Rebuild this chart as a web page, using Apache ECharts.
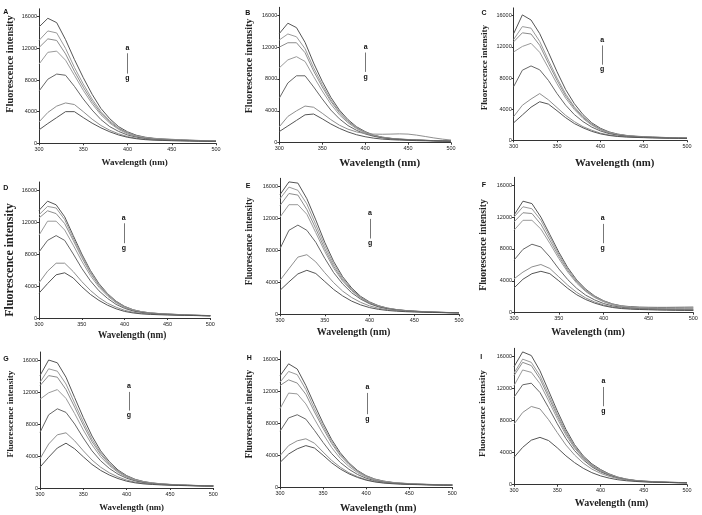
<!DOCTYPE html>
<html><head><meta charset="utf-8">
<script src="https://cdn.jsdelivr.net/npm/echarts@6/dist/echarts.min.js"></script>
<style>html,body{margin:0;padding:0;background:#fff}#c{width:702px;height:515px}</style>
</head><body><div id="c"></div>
<script>
// ---------- data ----------
const wavelengths = [300,310,320,330,340,350,360,370,380,390,400,410,420,430,440,450,460,470,480,490,500];
const curveNames = ['a','b','c','d','e','f','g'];
const panelNames = ['A','B','C','D','E','F','G','H','I'];
const xTicks = [300,350,400,450,500];
const yTicks = [0,4000,8000,12000,16000];
const xTitle = 'Wavelength (nm)';
const yTitle = 'Fluorescence intensity';

const panelA = [
  [14700,15800,15250,13100,10600,8300,6200,4400,3100,2100,1450,1020,770,630,550,500,450,400,360,330,300],
  [13000,14200,13950,12000,9600,7500,5600,4000,2850,1950,1350,950,720,600,520,470,420,380,340,310,290],
  [12100,13200,13000,11300,9100,7100,5300,3800,2700,1850,1300,920,700,580,500,450,400,360,330,300,280],
  [10000,11500,11650,10500,8600,6700,5000,3600,2550,1750,1200,880,680,560,490,440,390,350,320,300,280],
  [6600,8100,8750,8600,7200,5600,4200,3000,2100,1500,1050,780,600,500,440,400,360,330,300,280,260],
  [2700,3900,4700,5100,4900,4000,3050,2250,1650,1200,850,640,500,430,380,350,320,300,280,260,250],
  [1700,2500,3250,4000,4000,3250,2550,1950,1450,1050,760,580,460,400,360,330,310,290,270,250,240]
];
const panelB = [
  [13700,15000,14450,12600,10000,7700,5700,4100,2900,2000,1400,950,700,550,450,400,350,300,260,230,200],
  [12900,13650,13300,11800,9400,7300,5400,3900,2750,1900,1320,920,680,540,450,390,340,300,260,230,200],
  [12000,12550,12550,11300,9000,7000,5200,3750,2650,1850,1280,900,660,530,440,380,330,290,250,220,200],
  [9400,10400,10800,10200,8300,6500,4850,3500,2500,1750,1220,860,640,510,430,370,320,280,250,220,200],
  [5600,7500,8400,8400,7000,5500,4100,3000,2150,1550,1100,800,600,490,420,360,320,280,250,220,200],
  [2000,3300,4000,4600,4450,3700,2900,2200,1700,1350,1150,1080,1060,1080,1110,1080,950,780,600,450,330],
  [1400,2100,2800,3500,3600,3000,2350,1800,1350,1000,750,570,450,380,330,290,260,240,220,200,190]
];
const panelC = [
  [13700,16100,15450,13700,11300,8800,6500,4700,3300,2250,1550,1080,800,630,530,470,420,380,340,310,290],
  [12950,14600,14400,12700,10300,8000,5950,4300,3050,2100,1450,1020,760,600,510,450,400,360,330,300,280],
  [12650,13800,13650,12200,9900,7700,5700,4150,2950,2050,1400,990,740,590,500,440,390,350,320,300,280],
  [11350,12050,12450,11300,9300,7250,5400,3950,2800,1950,1350,950,720,570,490,430,380,340,310,290,270],
  [6900,9000,9550,9050,7700,6000,4500,3300,2400,1700,1200,860,660,530,460,410,360,330,300,280,260],
  [3050,4500,5300,6000,5200,4200,3200,2400,1750,1300,920,690,540,450,400,360,330,300,280,260,250],
  [2250,3250,4250,4950,4650,3800,2900,2150,1600,1150,830,620,490,420,370,340,310,290,270,250,240]
];
const panelD = [
  [13450,14600,14150,12650,10300,8000,5950,4300,3050,2100,1450,1030,780,640,560,500,450,400,360,330,300],
  [12900,13950,13750,12300,10000,7800,5800,4200,3000,2050,1420,1010,770,630,550,490,440,390,350,320,300],
  [12500,13400,13050,11800,9700,7550,5600,4050,2900,2000,1380,990,760,620,540,480,430,380,340,310,290],
  [10350,12100,12100,11000,9100,7100,5300,3850,2750,1900,1320,950,730,600,530,470,420,370,340,310,290],
  [8250,9700,10300,9700,8000,6200,4650,3400,2450,1700,1200,870,680,570,500,450,400,360,330,300,280],
  [4400,5850,6850,6850,5800,4550,3450,2550,1850,1350,960,720,580,500,450,410,380,350,320,300,280],
  [3100,4300,5400,5650,5000,3900,2950,2200,1600,1150,820,630,510,450,410,380,350,330,310,290,270]
];
const panelE = [
  [14950,16550,16400,14450,11800,9000,6600,4700,3300,2250,1550,1080,780,600,480,400,340,290,250,220,200],
  [14450,15900,15500,13800,11200,8600,6300,4500,3150,2150,1480,1040,760,580,470,390,330,280,240,210,200],
  [13600,15100,14900,13100,10700,8200,6000,4300,3050,2100,1440,1010,740,570,460,380,320,280,240,210,200],
  [12150,13700,13700,12500,10200,7850,5750,4150,2950,2030,1400,980,720,560,450,370,320,270,240,210,200],
  [8200,10500,11150,10500,9000,7000,5200,3800,2700,1900,1320,930,690,540,440,370,310,270,230,210,190],
  [4250,5700,7150,7450,6550,5200,3950,2900,2100,1500,1050,760,580,470,390,330,290,250,220,200,190],
  [3000,4050,5050,5500,5100,4100,3100,2300,1650,1180,840,620,480,390,330,290,260,230,210,190,180]
];
const panelF = [
  [12250,14000,13700,12000,9800,7600,5650,4100,2950,2100,1500,1100,860,760,700,680,670,670,680,690,700],
  [12000,13300,13050,11600,9500,7350,5500,4000,2850,2050,1460,1070,830,710,640,610,590,590,590,600,600],
  [11400,12550,12450,11100,9100,7100,5300,3850,2750,1980,1420,1040,810,680,610,570,540,520,510,500,500],
  [10350,11600,11600,10500,8700,6800,5100,3700,2650,1900,1370,1000,780,660,590,540,500,470,450,430,410],
  [6600,7950,8600,8250,7000,5500,4150,3050,2200,1600,1150,850,670,570,510,470,440,410,390,370,350],
  [4250,5100,5750,6050,5550,4500,3450,2550,1850,1350,970,730,580,500,450,420,390,370,350,330,320],
  [3100,4200,4900,5200,4900,4000,3050,2250,1650,1200,870,650,520,450,400,370,340,320,300,290,280]
];
const panelG = [
  [14050,16000,15650,13850,11300,8800,6500,4650,3300,2250,1550,1080,800,630,520,450,400,360,320,290,270],
  [13200,14900,14600,13000,10600,8250,6100,4400,3100,2150,1480,1040,770,610,510,440,390,350,310,280,260],
  [12800,14050,13850,12300,10100,7850,5800,4200,2980,2070,1430,1010,750,600,500,430,380,340,300,280,260],
  [11100,11900,12300,11200,9300,7250,5400,3900,2800,1950,1350,960,720,580,490,420,370,330,300,270,250],
  [6950,9150,9900,9450,8000,6250,4650,3400,2450,1730,1220,880,660,540,460,400,360,320,290,270,250],
  [3650,5500,6650,6900,5900,4650,3500,2600,1900,1380,990,730,570,480,420,370,340,310,280,260,250],
  [2600,3850,5000,5600,4900,3900,2950,2200,1620,1180,850,640,510,440,390,350,320,290,270,250,240]
];
const panelH = [
  [13900,15400,14750,12700,10300,8000,5950,4300,3050,2100,1450,1030,780,620,520,460,410,370,340,320,300],
  [13100,14450,14050,12200,9800,7650,5700,4100,2950,2030,1410,1000,760,610,510,450,400,360,330,310,290],
  [12700,13400,13000,11600,9400,7350,5450,3950,2850,1970,1370,980,740,600,500,440,390,350,320,300,290],
  [9800,11750,11650,10400,8500,6650,4950,3600,2600,1820,1280,920,700,570,480,420,380,340,310,290,280],
  [7000,8650,9050,8500,7100,5600,4200,3100,2250,1600,1130,820,630,520,450,400,360,330,300,280,270],
  [3950,5200,5800,6050,5500,4400,3350,2500,1820,1330,960,720,570,480,420,380,350,320,300,280,270],
  [3100,4150,4800,5200,4900,4000,3050,2280,1680,1230,890,670,530,450,400,360,330,310,290,270,260]
];
const panelI = [
  [14700,16550,16100,14200,11700,9200,6900,5000,3600,2600,1900,1350,950,700,540,450,390,340,300,280,260],
  [13900,15650,15250,13600,11250,8850,6650,4850,3500,2500,1820,1300,920,680,530,440,380,330,300,270,250],
  [13600,15250,14850,13200,10900,8600,6450,4700,3400,2430,1770,1270,900,670,520,430,370,330,290,270,250],
  [12350,14300,14000,12600,10450,8250,6200,4550,3300,2350,1700,1230,880,650,510,420,360,320,290,260,240],
  [10900,12450,12650,11500,9600,7600,5750,4250,3100,2220,1600,1170,840,630,500,410,350,310,280,250,240],
  [7550,9000,9750,9450,8100,6500,4950,3700,2700,1950,1420,1040,770,590,470,390,340,300,270,250,230],
  [3400,4650,5550,5900,5500,4600,3600,2750,2050,1500,1100,820,620,490,410,350,310,290,270,250,230]
];
const panels = [panelA,panelB,panelC,panelD,panelE,panelF,panelG,panelH,panelI];

// annotation "a -> g" in data units: [x, y of 'a', y of 'g']
const arrowAnno = [
  [400,12080,8210],[400.6,12020,8290],[402,12880,9110],
  [399,12540,8750],[400.6,12625,8875],[399,11850,8125],
  [402.7,12710,9080],[401.4,12470,8520],[403.3,12880,9180]
];

// ---------- layout (pixels) ----------
const layout = [
  {l:39,   t:8.8,   w:177,   h:134.5, lx:5.7,   ly:11.7,  xs:9,    xg:15,  xsh:7,   ys:10.3, yg:24,  ysh:12},
  {l:279.3,t:7.3,   w:171.7, h:135.4, lx:247.7, ly:12.7,  xs:11,   xg:15,  xsh:14.5,ys:10,   yg:24.5,ysh:9},
  {l:513.7,t:7.9,   w:173.3, h:132.4, lx:484,   ly:12.7,  xs:10.8, xg:17,  xsh:14.3,ys:9,    yg:24.5,ysh:6.5},
  {l:39,   t:182,   w:171.3, h:136,   lx:5.7,   ly:188,   xs:9.3,  xg:13.5,xsh:7.5, ys:12,   yg:23,  ysh:-10},
  {l:280,  t:178.3, w:179,   h:136,   lx:248,   ly:186,   xs:10,   xg:13,  xsh:-16, ys:9.3,  yg:26,  ysh:5},
  {l:514,  t:177.3, w:179.3, h:135.4, lx:484,   ly:185.3, xs:10,   xg:15,  xsh:-15.7,ys:9.7, yg:25.5,ysh:0},
  {l:40,   t:352,   w:173.3, h:136,   lx:6,     ly:358.7, xs:8.8,  xg:15,  xsh:5,   ys:9.2,  yg:24.7,ysh:6},
  {l:280,  t:351,   w:172.3, h:136.3, lx:249.3, ly:358.3, xs:10.4, xg:16.5,xsh:12,  ys:9.4,  yg:26,  ysh:5},
  {l:514,  t:348.3, w:173,   h:136.4, lx:481.3, ly:356.7, xs:10,   xg:13.5,xsh:11,  ys:9.2,  yg:26.5,ysh:3}
];
const curveColors = ['#555','#9a9a9a','#8c8c8c','#9a9a9a','#666','#8f8f8f','#555'];

const grids=[], xAxes=[], yAxes=[], series=[], graphics=[];
const tickLabel = {fontSize:5.5, color:'#222', fontFamily:'Liberation Sans', formatter:v=>String(v)};
layout.forEach((L,p)=>{
  grids.push({left:L.l, top:L.t, width:L.w, height:L.h, containLabel:false, outerBoundsMode:'none'});
  const xpad = L.xsh>=0 ? [0,0,0,2*L.xsh] : [0,-2*L.xsh,0,0];
  const ypad = L.ysh>=0 ? [0,0,0,2*L.ysh] : [0,-2*L.ysh,0,0];
  xAxes.push({type:'value', gridIndex:p, min:300, max:500,
    axisLine:{lineStyle:{color:'#333',width:1}},
    axisTick:{show:true,length:2,customValues:xTicks,lineStyle:{color:'#333'}},
    axisLabel:{...tickLabel, margin:3, customValues:xTicks},
    splitLine:{show:false},
    name:xTitle, nameLocation:'middle', nameGap:L.xg,
    nameTextStyle:{fontFamily:'Liberation Serif', fontWeight:'bold', fontSize:L.xs, color:'#222', padding:xpad}
  });
  yAxes.push({type:'value', gridIndex:p, min:0, max:17000,
    axisLine:{show:true,lineStyle:{color:'#333',width:1}},
    axisTick:{show:true,length:2,customValues:yTicks,lineStyle:{color:'#333'}},
    axisLabel:{...tickLabel, margin:2, customValues:yTicks},
    splitLine:{show:false},
    name:yTitle, nameLocation:'middle', nameGap:L.yg,
    nameTextStyle:{fontFamily:'Liberation Serif', fontWeight:'bold', fontSize:L.ys, color:'#222', padding:ypad}
  });
  const vals = panels[p];
  vals.forEach((arr,k)=>{
    const s = {type:'line', name:panelNames[p]+curveNames[k], xAxisIndex:p, yAxisIndex:p,
      data: wavelengths.map((w,i)=>[w,arr[i]]),
      showSymbol:false, symbol:'none', silent:true, animation:false,
      lineStyle:{color:curveColors[k], width:1}, z:3};
    if(k===0){
      const [ax,ay,gy]=arrowAnno[p];
      s.markLine = {silent:true, animation:false, symbol:['none','arrow'], symbolSize:[0,4],
        lineStyle:{color:'#777',width:1,type:'solid'}, label:{show:false},
        data:[[{coord:[ax,ay-700]},{coord:[ax,gy+600]}]]};
      s.markPoint = {silent:true, animation:false, symbol:'rect', symbolSize:1,
        itemStyle:{color:'rgba(0,0,0,0)'},
        label:{show:true, position:'inside', formatter:'{b}', fontSize:7, fontWeight:'bold', color:'#111', fontFamily:'Liberation Sans'},
        data:[{name:curveNames[0], coord:[ax,ay]},{name:curveNames[6], coord:[ax,gy]}]};
    }
    series.push(s);
  });
  graphics.push({type:'text', x:L.lx, y:L.ly, style:{text:panelNames[p], fontSize:7, fontWeight:'bold',
    fontFamily:'Liberation Sans', fill:'#111', align:'center', verticalAlign:'middle'}});
});

const chart = echarts.init(document.getElementById('c'), null, {renderer:'canvas'});
chart.setOption({animation:false, backgroundColor:'#fff', grid:grids, xAxis:xAxes, yAxis:yAxes, series:series, graphic:graphics});
</script></body></html>
